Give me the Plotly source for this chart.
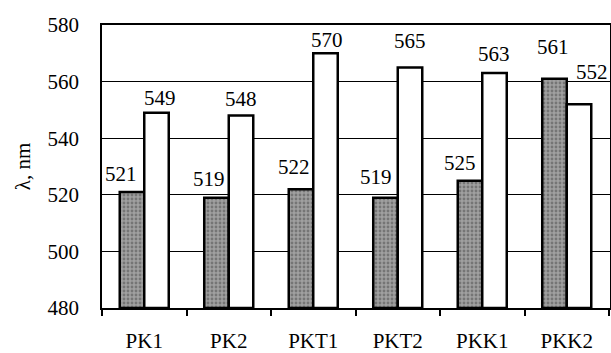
import plotly.graph_objects as go

categories = ["PK1", "PK2", "PKT1", "PKT2", "PKK1", "PKK2"]
series_dark = [521, 519, 522, 519, 525, 561]
series_white = [549, 548, 570, 565, 563, 552]
y_ticks = [480, 500, 520, 540, 560, 580]

# label placement offsets (pixels): (xshift, yshift above bar top)
dark_label_offsets = [(-11, 18), (-7.5, 19), (-7.5, 21.7), (-9.5, 21), (-10, 17.7), (-2, 31.7)]
white_label_offsets = [(3, 15), (0, 17), (1, 13.3), (0, 26), (-1, 19), (13, 32.7)]

FONT = "Liberation Serif, Times New Roman, serif"

fig = go.Figure()
fig.add_trace(go.Bar(
    x=categories, y=[v - 480 for v in series_dark], base=480,
    marker=dict(color="#8a8a8a", line=dict(color="black", width=2.5),
                pattern=dict(shape=".", fgcolor="#4a4a4a", bgcolor="#a0a0a0", size=4, solidity=0.4)),
    showlegend=False, hoverinfo="skip",
))
fig.add_trace(go.Bar(
    x=categories, y=[v - 480 for v in series_white], base=480,
    marker=dict(color="white", line=dict(color="black", width=2.5)),
    showlegend=False, hoverinfo="skip",
))

annotations = []
half = (1 - 0.42) / 4
for i, (vd, vw) in enumerate(zip(series_dark, series_white)):
    for val, sign, off in ((vd, -1, dark_label_offsets[i]), (vw, 1, white_label_offsets[i])):
        annotations.append(dict(
            x=i + sign * half, y=val, xref="x", yref="y", text=str(val),
            showarrow=False, xshift=off[0], yshift=off[1], yanchor="middle",
            font=dict(family=FONT, size=21, color="black"),
        ))

fig.update_layout(
    width=611, height=353,
    margin=dict(l=102, r=1, t=25, b=45),
    paper_bgcolor="white", plot_bgcolor="white",
    barmode="group", bargap=0.42, bargroupgap=0,
    font=dict(family=FONT, size=21, color="black"),
    annotations=annotations,
)
fig.update_xaxes(
    type="category", showline=True, linecolor="black", linewidth=1.5, mirror=True,
    ticks="outside", tickson="boundaries", ticklen=6, tickcolor="black", tickwidth=1.5,
    showgrid=False, tickfont=dict(family=FONT, size=21, color="black"), ticklabelstandoff=13,
    automargin=False,
)
fig.update_yaxes(
    range=[480, 580], tickvals=y_ticks, ticktext=[str(t) for t in y_ticks],
    showline=True, linecolor="black", linewidth=1.5, mirror=True,
    showgrid=True, gridcolor="black", gridwidth=1.2, zeroline=False,
    tickfont=dict(family=FONT, size=21, color="black"), ticklabelstandoff=17,
    title=dict(text="λ, nm", font=dict(family=FONT, size=21, color="black"), standoff=11),
    automargin=False,
)

fig.write_html(
    "out.html",
    config={"displayModeBar": False},
    post_script="document.body.style.margin='0';document.body.style.overflow='hidden';",
)
